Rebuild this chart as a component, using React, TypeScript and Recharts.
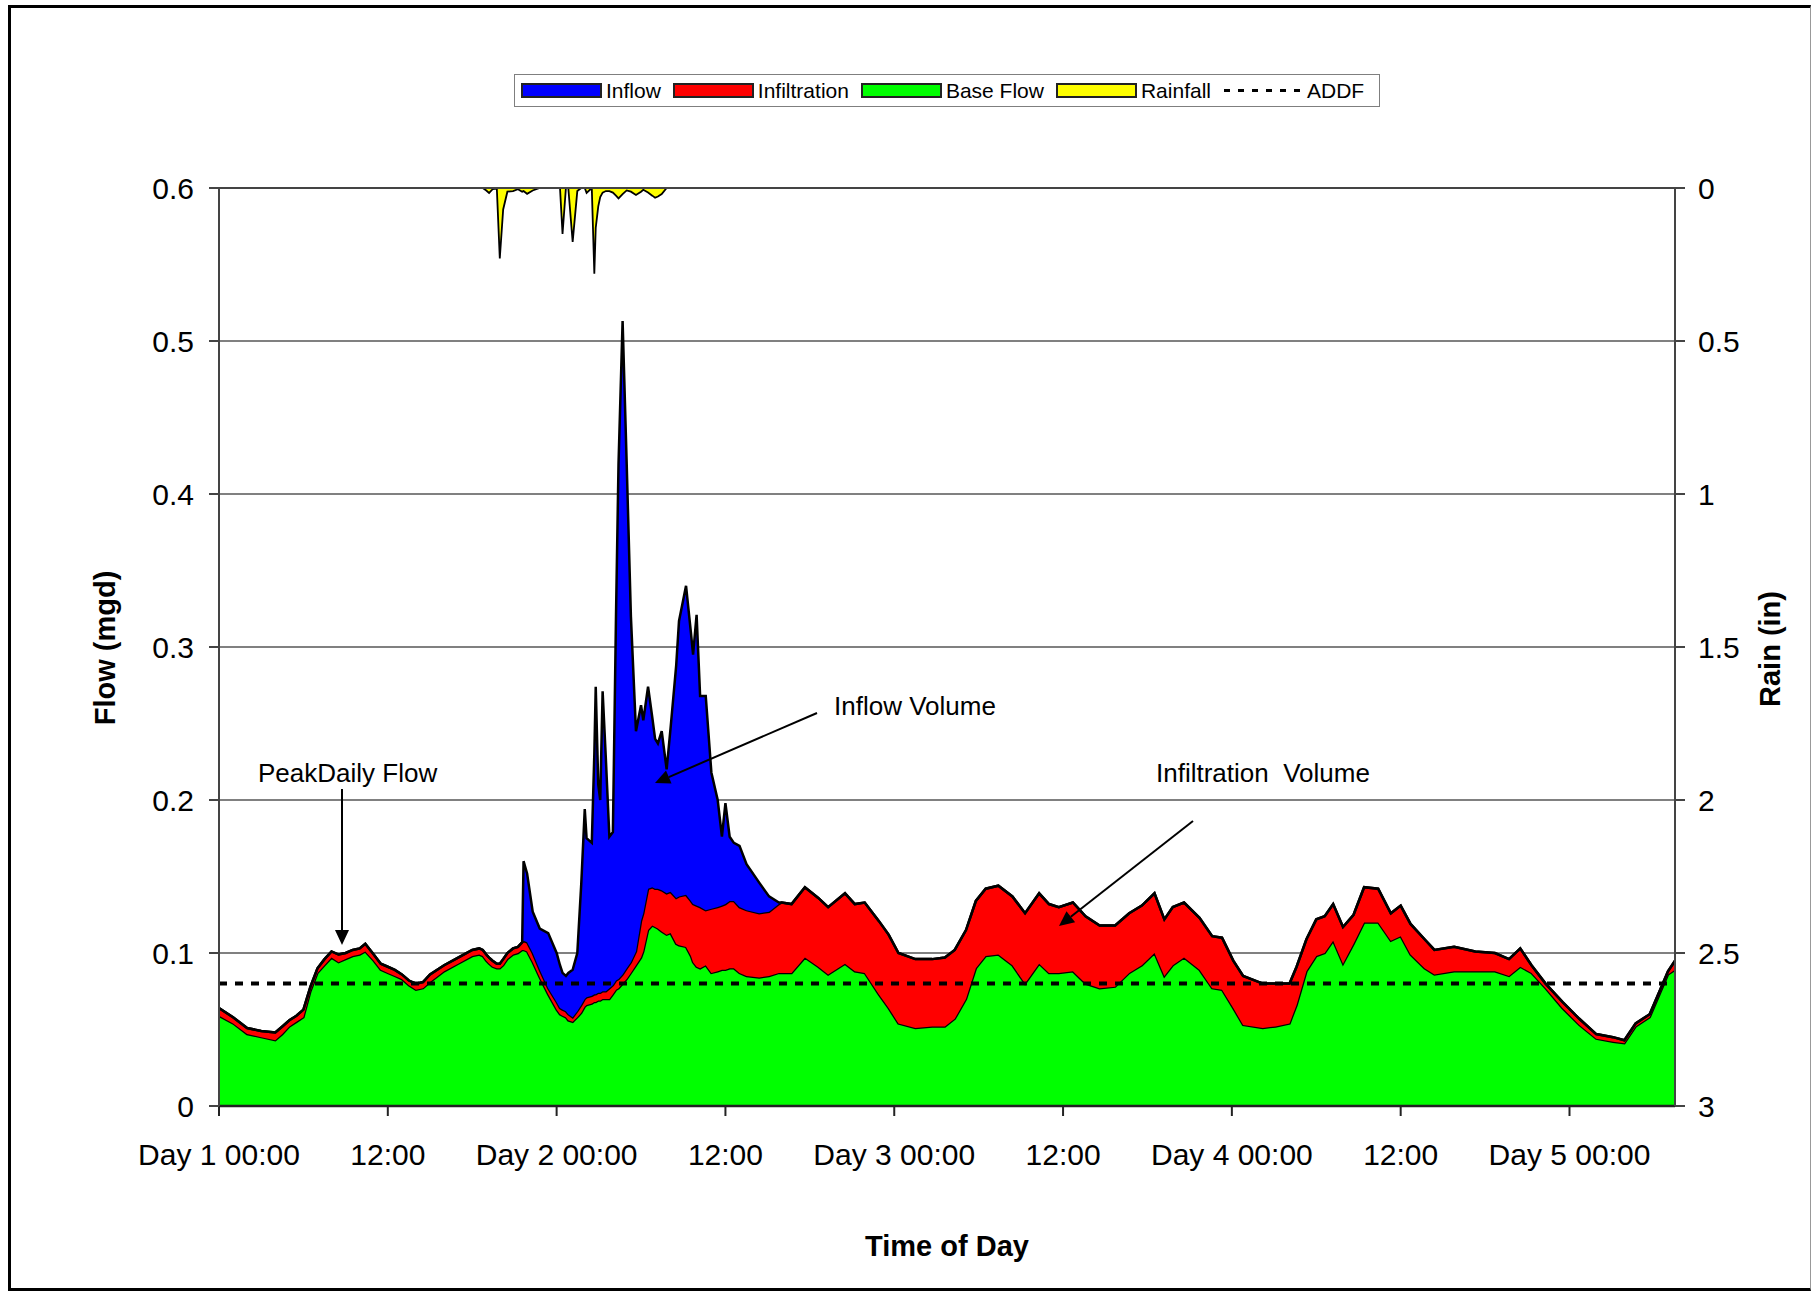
import React from 'react';
import { ComposedChart, Area, XAxis, YAxis, CartesianGrid, ReferenceLine } from 'recharts';

// time since start of record, hours
const hours = [
  0, 1, 2, 3, 4, 4.5, 5, 5.5, 6, 6.5, 7, 7.5, 8, 8.5, 9, 9.5, 10, 10.4, 11, 11.5, 12, 12.5, 13, 13.5, 14, 14.5, 15, 16, 17, 18,
  18.5, 18.75, 19, 19.2, 19.45, 19.75, 19.96, 20.2, 20.5, 20.9, 21.25, 21.55, 21.65, 21.9, 22.3, 22.8, 23.4, 24, 24.24, 24.42,
  24.66, 24.83, 25.14, 25.47, 25.75, 26, 26.13, 26.5, 26.68, 26.78, 26.96, 27.1, 27.27, 27.5, 27.75, 28, 28.22, 28.4, 28.69, 28.98,
  29.28, 29.64, 30, 30.16, 30.5, 30.8, 31, 31.2, 31.47, 31.82, 32.1, 32.5, 32.7, 33.2, 33.55, 33.7, 33.95, 34.2, 34.6, 35,
  35.45, 35.75, 36, 36.3, 36.6, 37, 37.5, 38.4, 39.1, 39.8, 40, 40.7, 41.65, 42.6, 43.3, 44.5, 45.2, 45.9, 46.9, 47.6,
  48.3, 49.5, 50.7, 51.6, 52.3, 53.1, 53.8, 54.5, 55.4, 56.4, 57.3, 58.3, 59, 59.7, 60.7, 61.6, 62.6, 63.7, 64.7, 65.6,
  66.5, 67.2, 67.8, 68.6, 69.7, 70.6, 71.3, 72.1, 72.8, 74.2, 75.1, 76.1, 76.6, 77.3, 78, 78.6, 79.2, 79.9, 80.65, 81.4,
  82.4, 83.3, 84, 84.7, 85.7, 86.4, 87.8, 89.3, 90.7, 91.7, 92.5, 93.3, 94.3, 95.5, 96.7, 97.9, 99.1, 99.9, 100.7, 101.7,
  102.4, 103, 103.5,
];

// mgd
const baseFlow = [
  0.059, 0.054, 0.047, 0.045, 0.043, 0.047, 0.052, 0.055, 0.058, 0.075, 0.087, 0.092, 0.097, 0.094, 0.096, 0.098, 0.099, 0.101, 0.095, 0.089, 0.087, 0.085, 0.083, 0.079, 0.076, 0.077, 0.081, 0.088, 0.093, 0.098,
  0.099, 0.098, 0.095, 0.093, 0.091, 0.090, 0.090, 0.092, 0.096, 0.099, 0.100, 0.102, 0.102, 0.101, 0.094, 0.084, 0.073, 0.063, 0.060, 0.059,
  0.058, 0.056, 0.055, 0.058, 0.061, 0.065, 0.066, 0.067, 0.068, 0.068, 0.069, 0.069, 0.070, 0.070, 0.070, 0.073, 0.076, 0.077, 0.080, 0.083,
  0.087, 0.092, 0.097, 0.101, 0.115, 0.118, 0.117, 0.116, 0.114, 0.112, 0.113, 0.106, 0.105, 0.104, 0.098, 0.094, 0.091, 0.090, 0.092, 0.087,
  0.088, 0.089, 0.089, 0.090, 0.090, 0.087, 0.085, 0.084, 0.085, 0.087, 0.087, 0.087, 0.097, 0.091, 0.086, 0.093, 0.088, 0.087, 0.073, 0.064,
  0.054, 0.051, 0.052, 0.052, 0.057, 0.070, 0.090, 0.098, 0.099, 0.092, 0.080, 0.093, 0.087, 0.087, 0.088, 0.080, 0.077, 0.078, 0.087, 0.092,
  0.100, 0.085, 0.092, 0.097, 0.089, 0.077, 0.076, 0.064, 0.053, 0.051, 0.052, 0.054, 0.066, 0.088, 0.098, 0.100, 0.108, 0.093, 0.106, 0.120,
  0.120, 0.108, 0.111, 0.099, 0.090, 0.086, 0.088, 0.088, 0.088, 0.085, 0.091, 0.087, 0.077, 0.064, 0.053, 0.044, 0.042, 0.041, 0.052, 0.058,
  0.073, 0.086, 0.089,
];

const infiltration = [
  0.005, 0.004, 0.004, 0.004, 0.005, 0.005, 0.004, 0.004, 0.005, 0.003, 0.003, 0.004, 0.004, 0.005, 0.004, 0.004, 0.004, 0.005, 0.004, 0.004, 0.004, 0.004, 0.003, 0.003, 0.004, 0.004, 0.005, 0.004, 0.004, 0.004,
  0.004, 0.004, 0.004, 0.004, 0.004, 0.003, 0.003, 0.004, 0.004, 0.004, 0.004, 0.005, 0.006, 0.006, 0.006, 0.005, 0.004, 0.005, 0.004, 0.004,
  0.004, 0.004, 0.003, 0.004, 0.005, 0.005, 0.005, 0.005, 0.005, 0.005, 0.005, 0.005, 0.005, 0.005, 0.007, 0.006, 0.006, 0.006, 0.006, 0.007,
  0.007, 0.009, 0.024, 0.025, 0.027, 0.025, 0.025, 0.026, 0.027, 0.027, 0.027, 0.030, 0.032, 0.034, 0.036, 0.038, 0.040, 0.040, 0.036, 0.042,
  0.042, 0.042, 0.043, 0.044, 0.044, 0.043, 0.043, 0.042, 0.042, 0.045, 0.046, 0.045, 0.046, 0.045, 0.044, 0.046, 0.044, 0.046, 0.048, 0.048,
  0.046, 0.045, 0.044, 0.045, 0.045, 0.045, 0.044, 0.044, 0.045, 0.045, 0.046, 0.046, 0.045, 0.043, 0.045, 0.044, 0.041, 0.040, 0.039, 0.039,
  0.039, 0.037, 0.038, 0.036, 0.034, 0.034, 0.034, 0.031, 0.032, 0.029, 0.028, 0.026, 0.025, 0.021, 0.024, 0.024, 0.024, 0.024, 0.019, 0.023,
  0.022, 0.018, 0.020, 0.020, 0.019, 0.016, 0.016, 0.013, 0.012, 0.011, 0.012, 0.005, 0.003, 0.004, 0.004, 0.003, 0.003, 0.002, 0.002, 0.002,
  0.002, 0.002, 0.006,
];

const inflow = [
  0, 0, 0, 0, 0, 0, 0, 0, 0, 0, 0, 0, 0, 0, 0, 0, 0, 0, 0, 0, 0, 0, 0, 0, 0, 0, 0, 0, 0, 0,
  0, 0, 0, 0, 0, 0, 0, 0, 0, 0, 0, 0, 0.052, 0.045, 0.027, 0.027, 0.036, 0.032, 0.028, 0.024,
  0.023, 0.027, 0.031, 0.038, 0.079, 0.124, 0.104, 0.100, 0.157, 0.201, 0.136, 0.126, 0.196, 0.152, 0.099, 0.100, 0.238, 0.337, 0.427, 0.330,
  0.226, 0.144, 0.141, 0.126, 0.132, 0.111, 0.098, 0.095, 0.104, 0.081, 0.107, 0.152, 0.180, 0.202, 0.175, 0.163, 0.190, 0.138, 0.140, 0.089,
  0.070, 0.045, 0.066, 0.042, 0.038, 0.040, 0.030, 0.020, 0.010, 0.001, 0, 0, 0, 0, 0, 0, 0, 0, 0, 0,
  0, 0, 0, 0, 0, 0, 0, 0, 0, 0, 0, 0, 0, 0, 0, 0, 0, 0, 0, 0,
  0, 0, 0, 0, 0, 0, 0, 0, 0, 0, 0, 0, 0, 0, 0, 0, 0, 0, 0, 0,
  0, 0, 0, 0, 0, 0, 0, 0, 0, 0, 0, 0, 0, 0, 0, 0, 0, 0, 0, 0,
  0, 0, 0,
];

// inches, plotted on the reversed right axis
const rainfall = [
  0, 0, 0, 0, 0, 0, 0, 0, 0, 0, 0, 0, 0, 0, 0, 0, 0, 0, 0, 0, 0, 0, 0, 0, 0, 0, 0, 0, 0, 0,
  0, 0, 0.008, 0.016, 0.004, 0.002, 0.23, 0.07, 0.012, 0.01, 0.004, 0.012, 0.01, 0.019, 0.008, 0, 0, 0, 0, 0.15,
  0, 0, 0.176, 0.01, 0, 0, 0.016, 0, 0.28, 0.13, 0.06, 0.03, 0.015, 0.01, 0.01, 0.015, 0.025, 0.034, 0.02, 0.008,
  0.012, 0.023, 0.012, 0.006, 0.015, 0.025, 0.032, 0.028, 0.02, 0, 0, 0, 0, 0, 0, 0, 0, 0, 0, 0,
  0, 0, 0, 0, 0, 0, 0, 0, 0, 0, 0, 0, 0, 0, 0, 0, 0, 0, 0, 0,
  0, 0, 0, 0, 0, 0, 0, 0, 0, 0, 0, 0, 0, 0, 0, 0, 0, 0, 0, 0,
  0, 0, 0, 0, 0, 0, 0, 0, 0, 0, 0, 0, 0, 0, 0, 0, 0, 0, 0, 0,
  0, 0, 0, 0, 0, 0, 0, 0, 0, 0, 0, 0, 0, 0, 0, 0, 0, 0, 0, 0,
  0, 0, 0,
];

const ADDF = 0.08;

const tickHours = [0, 12, 24, 36, 48, 60, 72, 84, 96];
const tickLabels = ['Day 1 00:00', '12:00', 'Day 2 00:00', '12:00', 'Day 3 00:00', '12:00', 'Day 4 00:00', '12:00', 'Day 5 00:00'];
const flowTicks = [0, 0.1, 0.2, 0.3, 0.4, 0.5, 0.6];
const rainTicks = [0, 0.5, 1, 1.5, 2, 2.5, 3];

const legendItems = [
  { label: 'Inflow', color: '#0000FF' },
  { label: 'Infiltration', color: '#FF0000' },
  { label: 'Base Flow', color: '#00FF00' },
  { label: 'Rainfall', color: '#FFFF00' },
];

const data = hours.map((t, i) => ({
  t,
  base: baseFlow[i],
  infil: infiltration[i],
  inflow: inflow[i],
  rain: rainfall[i],
}));

const FONT = '"Liberation Sans", Arial, Helvetica, sans-serif';
const tickStyle = { fontSize: 30, fill: '#000', fontFamily: FONT };

const Arrow = ({ x1, y1, x2, y2 }: { x1: number; y1: number; x2: number; y2: number }) => {
  const dx = x2 - x1;
  const dy = y2 - y1;
  const len = Math.hypot(dx, dy);
  const ux = dx / len;
  const uy = dy / len;
  const hl = 15;
  const hw = 7;
  const bx = x2 - ux * hl;
  const by = y2 - uy * hl;
  return (
    <g>
      <line x1={x1} y1={y1} x2={bx} y2={by} stroke="#000" strokeWidth={2} />
      <polygon points={`${x2},${y2} ${bx + uy * hw},${by - ux * hw} ${bx - uy * hw},${by + ux * hw}`} fill="#000" />
    </g>
  );
};

const Legend = () => (
  <div
    style={{
      position: 'absolute', left: 514, top: 74, width: 866, height: 33, boxSizing: 'border-box',
      border: '1.5px solid #7f7f7f', background: '#fff', display: 'flex', alignItems: 'center',
      paddingLeft: 6, fontFamily: FONT, fontSize: 21, color: '#000', whiteSpace: 'nowrap',
    }}
  >
    {legendItems.map((it) => (
      <div key={it.label} style={{ display: 'flex', alignItems: 'center', marginRight: 12 }}>
        <div style={{ width: 81, height: 15, boxSizing: 'border-box', background: it.color, border: '2px solid #222' }} />
        <span style={{ marginLeft: 4 }}>{it.label}</span>
      </div>
    ))}
    <div style={{ display: 'flex', alignItems: 'center' }}>
      <svg width={81} height={15}>
        <line x1={1} y1={7.5} x2={81} y2={7.5} stroke="#000" strokeWidth={3} strokeDasharray="6 8" />
      </svg>
      <span style={{ marginLeft: 3 }}>ADDF</span>
    </div>
  </div>
);

export default function App() {
  return (
    <div style={{ position: 'absolute', left: 0, top: 0, width: 1811, height: 1294, background: '#fff', overflow: 'hidden' }}>
      <div style={{ position: 'absolute', left: 0, top: 0 }}>
        <ComposedChart
          width={1811}
          height={1294}
          data={data}
          margin={{ top: 188, right: 56, bottom: 128, left: 139 }}
        >
          <CartesianGrid yAxisId="flow" vertical={false} stroke="#808080" strokeWidth={2} />
          <XAxis
            dataKey="t"
            type="number"
            domain={[0, 103.5]}
            allowDataOverflow
            ticks={tickHours}
            interval={0}
            tickFormatter={(v: number) => tickLabels[tickHours.indexOf(v)] ?? ''}
            tick={tickStyle}
            tickSize={10}
            tickMargin={28}
            height={60}
            axisLine={{ stroke: '#222', strokeWidth: 2.5 }}
            tickLine={{ stroke: '#222', strokeWidth: 2 }}
          />
          <YAxis
            yAxisId="flow"
            domain={[0, 0.6]}
            ticks={flowTicks}
            interval={0}
            allowDataOverflow
            tickFormatter={(v: number) => (v === 0 ? '0' : v.toFixed(1))}
            tick={tickStyle}
            tickSize={10}
            tickMargin={15}
            width={80}
            axisLine={{ stroke: '#444', strokeWidth: 2 }}
            tickLine={{ stroke: '#444', strokeWidth: 2 }}
          />
          <YAxis
            yAxisId="rain"
            orientation="right"
            reversed
            domain={[0, 3]}
            ticks={rainTicks}
            interval={0}
            allowDataOverflow
            tickFormatter={(v: number) => String(v)}
            tick={tickStyle}
            tickSize={10}
            tickMargin={13}
            width={80}
            axisLine={{ stroke: '#444', strokeWidth: 2 }}
            tickLine={{ stroke: '#444', strokeWidth: 2 }}
          />
          <Area
            yAxisId="flow"
            stackId="flow"
            type="linear"
            dataKey="base"
            name="Base Flow"
            fill="#00FF00"
            fillOpacity={1}
            stroke="#000"
            strokeWidth={2.5}
            dot={false}
            activeDot={false}
            isAnimationActive={false}
          />
          <Area
            yAxisId="flow"
            stackId="flow"
            type="linear"
            dataKey="infil"
            name="Infiltration"
            fill="#FF0000"
            fillOpacity={1}
            stroke="#000"
            strokeWidth={2.5}
            dot={false}
            activeDot={false}
            isAnimationActive={false}
          />
          <Area
            yAxisId="flow"
            stackId="flow"
            type="linear"
            dataKey="inflow"
            name="Inflow"
            fill="#0000FF"
            fillOpacity={1}
            stroke="#000"
            strokeWidth={2.5}
            dot={false}
            activeDot={false}
            isAnimationActive={false}
          />
          <ReferenceLine yAxisId="flow" y={0.6} stroke="#444" strokeWidth={2} />
          <Area
            yAxisId="rain"
            type="linear"
            dataKey="rain"
            name="Rainfall"
            baseValue={0}
            fill="#FFFF00"
            fillOpacity={1}
            stroke="#000"
            strokeWidth={1.8}
            dot={false}
            activeDot={false}
            isAnimationActive={false}
          />
          <ReferenceLine yAxisId="flow" y={ADDF} stroke="#000" strokeWidth={4} strokeDasharray="8 8" />
        </ComposedChart>
      </div>

      <svg
        width={1811}
        height={1294}
        style={{ position: 'absolute', left: 0, top: 0, pointerEvents: 'none' }}
        fontFamily={FONT}
      >
        <text x={105} y={648} transform="rotate(-90 105 648)" textAnchor="middle" dominantBaseline="central" fontSize={29} fontWeight="bold">
          Flow (mgd)
        </text>
        <text x={1770} y={649} transform="rotate(-90 1770 649)" textAnchor="middle" dominantBaseline="central" fontSize={29} fontWeight="bold">
          Rain (in)
        </text>
        <text x={947} y={1246} textAnchor="middle" dominantBaseline="central" fontSize={29} fontWeight="bold">
          Time of Day
        </text>

        <text x={258} y={782} fontSize={26}>PeakDaily Flow</text>
        <Arrow x1={342} y1={789} x2={342} y2={945} />

        <text x={834} y={715} fontSize={26}>Inflow Volume</text>
        <Arrow x1={817} y1={713} x2={655} y2={783} />

        <text x={1156} y={782} fontSize={26} style={{ whiteSpace: 'pre' }}>Infiltration  Volume</text>
        <Arrow x1={1193} y1={821} x2={1059} y2={926} />
      </svg>

      <Legend />

      <div
        style={{
          position: 'absolute', left: 8, top: 5, width: 1803, height: 1286, boxSizing: 'border-box',
          borderTop: '3px solid #000', borderLeft: '3px solid #000', borderBottom: '3px solid #000',
          borderRight: '1.5px solid #999', pointerEvents: 'none',
        }}
      />
    </div>
  );
}
